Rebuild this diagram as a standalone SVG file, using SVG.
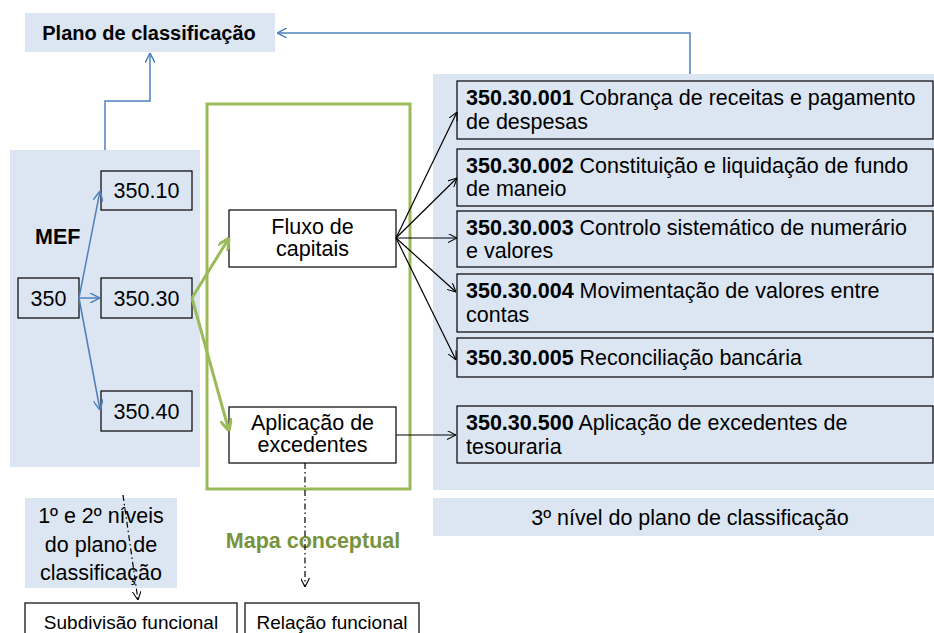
<svg xmlns="http://www.w3.org/2000/svg" width="934" height="633" viewBox="0 0 934 633">
<defs>
<style>
text{font-family:"Liberation Sans","Open Sans",sans-serif;fill:#000}
.panel{fill:#DCE6F2}
.box{fill:#fff;stroke:#000;stroke-width:1.2}
.lbox{fill:#DCE6F2;stroke:#000;stroke-width:1.2}
.t{font-size:21.5px}
.s{font-size:19px}
.c{text-anchor:middle}
.b{font-weight:bold}
.blue{stroke:#4F81BD;stroke-width:1.5;fill:none}
.green{stroke:#9BBB59;stroke-width:3;fill:none}
.blk{stroke:#000;stroke-width:1.2;fill:none}
.dd{stroke:#000;stroke-width:1.2;fill:none;stroke-dasharray:6 3 1.5 3}
</style>
<marker id="ab" viewBox="0 0 10 10" refX="10" refY="5" markerWidth="10" markerHeight="10" markerUnits="userSpaceOnUse" orient="auto"><path d="M0,0 L10,5 L0,10" fill="none" stroke="#4F81BD" stroke-width="1.5"/></marker>
<marker id="ag" viewBox="0 0 10 10" refX="10" refY="5" markerWidth="12" markerHeight="12" markerUnits="userSpaceOnUse" orient="auto"><path d="M0,0 L10,5 L0,10" fill="none" stroke="#9BBB59" stroke-width="2.5"/></marker>
<marker id="ak" viewBox="0 0 10 10" refX="10" refY="5" markerWidth="9" markerHeight="9" markerUnits="userSpaceOnUse" orient="auto"><path d="M0,0 L10,5 L0,10" fill="none" stroke="#000" stroke-width="1.2"/></marker>
</defs>
<rect width="934" height="633" fill="#fff"/>

<g id="plano">
<rect class="panel" x="25" y="13" width="250" height="39"/>
<text class="b c" style="font-size:20px" x="149" y="40">Plano de classificação</text>
</g>

<g id="mef-panel">
<rect class="panel" x="10" y="150" width="190" height="317"/>
<text class="t b" x="35" y="244">MEF</text>
</g>

<g id="right-panel"><rect class="panel" x="433" y="74" width="501" height="416"/></g>
<g id="nivel3">
<rect class="panel" x="433" y="498" width="501" height="38"/>
<text class="t c" x="690" y="525">3º nível do plano de classificação</text>
</g>

<g id="mapa">
<rect class="green" x="207" y="104" width="203" height="385"/>
<text class="t b c" x="313" y="548" style="fill:#77933C">Mapa conceptual</text>
</g>

<g id="n350"><rect class="lbox" x="18" y="278" width="61" height="40"/><text class="t c" x="48.500" y="306">350</text></g>
<g id="n35010"><rect class="lbox" x="101" y="171" width="91" height="39"/><text class="t c" x="146.500" y="198">350.10</text></g>
<g id="n35030"><rect class="lbox" x="101" y="278" width="91" height="40"/><text class="t c" x="146.500" y="306">350.30</text></g>
<g id="n35040"><rect class="lbox" x="101" y="391" width="91" height="40"/><text class="t c" x="146.500" y="419">350.40</text></g>

<g id="fluxo"><rect class="box" x="229" y="210" width="167" height="57"/><text class="t c" x="312.500" y="234">Fluxo de</text><text class="t c" x="312.500" y="256">capitais</text></g>
<g id="aplic"><rect class="box" x="229" y="407" width="167" height="56"/><text class="t c" x="312.500" y="430">Aplicação de</text><text class="t c" x="312.500" y="452">excedentes</text></g>

<g id="r001"><rect class="lbox" x="457" y="81" width="476" height="58"/><text class="t" x="466" y="105"><tspan class="b">350.30.001</tspan> Cobrança de receitas e pagamento</text><text class="t" x="466" y="129">de despesas</text></g>
<g id="r002"><rect class="lbox" x="457" y="149" width="476" height="57"/><text class="t" x="466" y="173"><tspan class="b">350.30.002</tspan> Constituição e liquidação de fundo</text><text class="t" x="466" y="196">de maneio</text></g>
<g id="r003"><rect class="lbox" x="457" y="211" width="476" height="56"/><text class="t" x="466" y="235"><tspan class="b">350.30.003</tspan> Controlo sistemático de numerário</text><text class="t" x="466" y="258">e valores</text></g>
<g id="r004"><rect class="lbox" x="457" y="274" width="476" height="58"/><text class="t" x="466" y="298"><tspan class="b">350.30.004</tspan> Movimentação de valores entre</text><text class="t" x="466" y="322">contas</text></g>
<g id="r005"><rect class="lbox" x="457" y="338" width="476" height="39"/><text class="t" x="466" y="365"><tspan class="b">350.30.005</tspan> Reconciliação bancária</text></g>
<g id="r500"><rect class="lbox" x="457" y="406" width="476" height="57"/><text class="t" x="466" y="430"><tspan class="b">350.30.500</tspan> Aplicação de excedentes de</text><text class="t" x="466" y="454">tesouraria</text></g>

<g id="niveis12">
<rect class="panel" x="25" y="498" width="152" height="90"/>
<text class="t c" x="101" y="523">1º e 2º níveis</text>
<text class="t c" x="101" y="552">do plano de</text>
<text class="t c" x="101" y="580">classificação</text>
</g>

<g id="subdiv"><rect class="box" x="25" y="603" width="212" height="40"/><text class="s c" x="131" y="629">Subdivisão funcional</text></g>
<g id="relacao"><rect class="box" x="245" y="603" width="174" height="40"/><text class="s c" x="332" y="629">Relação funcional</text></g>

<g id="connectors">
<path class="blue" d="M690,74 V33 H277" marker-end="url(#ab)"/>
<path class="blue" d="M105,150 V101 H150 V53" marker-end="url(#ab)"/>
<path class="blue" d="M79,298 L100,191" marker-end="url(#ab)"/>
<path class="blue" d="M79,298 H100" marker-end="url(#ab)"/>
<path class="blue" d="M79,298 L100,410" marker-end="url(#ab)"/>
<path class="green" d="M192,298 L229,238" marker-end="url(#ag)"/>
<path class="green" d="M192,298 L229,431" marker-end="url(#ag)"/>
<path class="blk" d="M396,238 L457,112" marker-end="url(#ak)"/>
<path class="blk" d="M396,238 L457,178" marker-end="url(#ak)"/>
<path class="blk" d="M396,238 H457" marker-end="url(#ak)"/>
<path class="blk" d="M396,238 L456,292" marker-end="url(#ak)"/>
<path class="blk" d="M396,238 L456,360" marker-end="url(#ak)"/>
<path class="blk" d="M396,435 H456" marker-end="url(#ak)"/>
<path class="dd" d="M305,463 V587" marker-end="url(#ak)"/>
<path class="dd" d="M123,495 L138,600" marker-end="url(#ak)"/>
</g>
</svg>
